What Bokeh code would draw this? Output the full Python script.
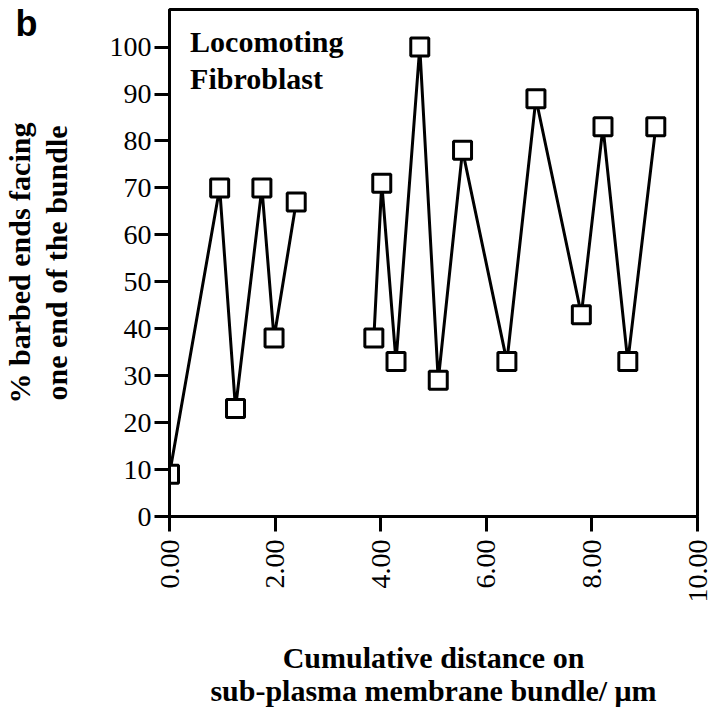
import math
from bokeh.plotting import figure
from bokeh.models import Range1d, FixedTicker, NumeralTickFormatter, Label, LinearAxis
from bokeh.embed import file_html
from bokeh.resources import INLINE

# Data
x_seg1 = [0.00, 0.95, 1.25, 1.75, 1.98, 2.40]
y_seg1 = [9, 70, 23, 70, 38, 67]
x_seg2 = [3.87, 4.02, 4.29, 4.74, 5.09, 5.55, 6.39, 6.94, 7.80, 8.21, 8.68, 9.21]
y_seg2 = [38, 71, 33, 100, 29, 78, 33, 89, 43, 83, 33, 83]
x_ticks = [0, 2, 4, 6, 8, 10]
y_ticks = [0, 10, 20, 30, 40, 50, 60, 70, 80, 90, 100]
panel_letter = "b"
panel_letter_at = 105

SERIF = "Liberation Serif"

p = figure(width=712, height=709, output_backend="svg", toolbar_location=None,
           x_range=Range1d(0, 10), y_range=Range1d(0, 108),
           min_border_left=169, min_border_right=15, min_border_top=9,
           min_border_bottom=192)

p.xgrid.visible = False
p.ygrid.visible = False
p.outline_line_color = "black"
p.outline_line_width = 3
p.background_fill_color = "white"
p.border_fill_color = "white"

for ax in (p.xaxis[0], p.yaxis[0]):
    ax.axis_line_width = 3
    ax.axis_line_color = "black"
    ax.major_tick_out = 15
    ax.major_tick_in = 0
    ax.minor_tick_out = 0
    ax.minor_tick_in = 0
    ax.major_tick_line_width = 3
    ax.major_tick_line_color = "black"
    ax.major_label_text_font = SERIF
    ax.major_label_text_font_size = "28px"
    ax.major_label_text_color = "black"
    ax.axis_label_text_font = SERIF
    ax.axis_label_text_font_style = "bold"
    ax.axis_label_text_color = "black"

p.xaxis.ticker = FixedTicker(ticks=x_ticks)
p.xaxis.formatter = NumeralTickFormatter(format="0.00")
p.xaxis.major_label_orientation = math.pi / 2
p.xaxis.major_label_standoff = 8
p.xaxis.axis_label = "Cumulative distance on\nsub-plasma membrane bundle/ \u03bcm"
p.xaxis.axis_label_text_font_size = "30px"
p.xaxis.axis_label_text_line_height = 1.0
p.xaxis.axis_label_standoff = 35

p.yaxis.ticker = FixedTicker(ticks=y_ticks)
p.yaxis.major_label_standoff = 3

# outer left axis: carries the panel letter and the y title
outer = LinearAxis(ticker=FixedTicker(ticks=[panel_letter_at]),
                   major_label_overrides={panel_letter_at: panel_letter},
                   axis_line_color=None, major_tick_line_color=None,
                   minor_tick_line_color=None, major_tick_out=0, major_tick_in=0,
                   major_label_standoff=69,
                   major_label_text_font="Liberation Sans",
                   major_label_text_font_style="bold",
                   major_label_text_font_size="36px",
                   major_label_text_color="black",
                   axis_label="% barbed ends facing\none end of the bundle",
                   axis_label_text_font=SERIF,
                   axis_label_text_font_style="bold",
                   axis_label_text_font_size="30px",
                   axis_label_text_line_height=1.1,
                   axis_label_text_color="black",
                   axis_label_standoff=-60)
p.add_layout(outer, "left")

for xs, ys in ((x_seg1, y_seg1), (x_seg2, y_seg2)):
    p.line(xs, ys, line_color="black", line_width=3)
    p.scatter(xs, ys, marker="square", size=18, fill_color="white",
              line_color="black", line_width=3)

def lab(x, y, text, size):
    p.add_layout(Label(x=x, y=y, text=text, text_font=SERIF,
                       text_font_style="bold", text_font_size=size,
                       text_color="black", text_align="left",
                       text_baseline="alphabetic"))

# inset title
lab(0.39, 101.1, "Locomoting", "30px")
lab(0.39, 93.4, "Fibroblast", "30px")

open("out.html", "w").write(file_html(p, INLINE))
